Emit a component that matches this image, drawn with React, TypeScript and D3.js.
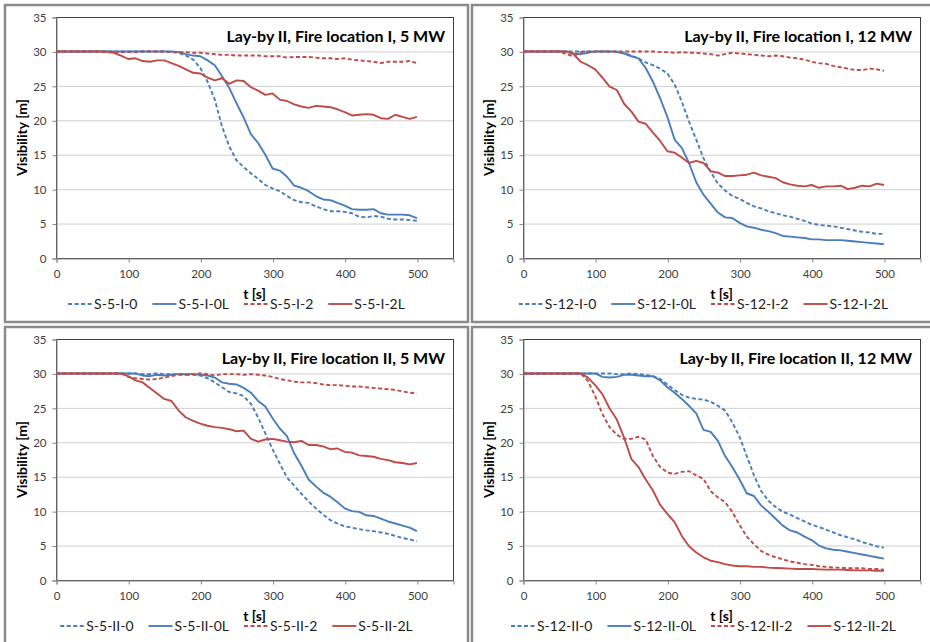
import React, { useRef, useEffect } from "react";
import * as d3 from "d3";

// Visibilidad frente a tiempo, 4 escenarios (lay-by II)
const T = [0, 10, 20, 30, 40, 50, 60, 70, 80, 90, 100, 110, 120, 130, 140, 150, 160, 170, 180, 190, 200,
  210, 220, 230, 240, 250, 260, 270, 280, 290, 300, 310, 320, 330, 340, 350, 360, 370, 380, 390, 400,
  410, 420, 430, 440, 450, 460, 470, 480, 490, 500];

const X_TICKS = [0, 100, 200, 300, 400, 500];
const Y_TICKS = [0, 5, 10, 15, 20, 25, 30, 35];

// Fire location I, 5 MW
const S5I0 = [30, 30, 30, 30, 30, 30, 30, 30, 30, 30, 30, 30, 30, 30, 30,
  30, 29.9, 29.8, 29.4, 28.8, 27.6, 25.6, 23.0, 19.1, 16.2, 14.2, 13.2, 12.3, 11.5, 10.6,
  10.1, 9.7, 9.0, 8.4, 8.1, 8.0, 7.5, 7.1, 6.8, 6.8, 6.7, 6.5, 6.0, 5.9, 6.1, 6.0, 5.7, 5.6, 5.6, 5.5, 5.4];
const S5I0L = [30, 30, 30, 30, 30, 30, 30, 30, 30, 30, 30, 30, 30, 30, 30, 30, 30,
  29.9, 29.6, 29.4, 29.3, 28.7, 28.0, 26.4, 24.7, 22.5, 20.4, 18.0, 16.7, 15.0,
  13.0, 12.7, 11.8, 10.5, 10.2, 9.7, 9.0, 8.5, 8.4, 8.0, 7.6, 7.1, 7.0, 7.0, 7.1, 6.5, 6.3, 6.3, 6.3, 6.2, 5.8];
const S5I2 = [30, 30, 30, 30, 30, 30, 30, 29.9, 29.8, 29.9,
  29.9, 29.9, 30, 30, 30, 30, 29.9, 29.9, 29.9, 29.8,
  29.8, 29.7, 29.6, 29.5, 29.5, 29.4, 29.4, 29.4, 29.4, 29.3,
  29.3, 29.3, 29.1, 29.2, 29.2, 29.2, 29.1, 29.0, 29.0, 28.9,
  29.0, 28.8, 28.7, 28.6, 28.5, 28.3, 28.5, 28.5, 28.5, 28.6, 28.3];
const S5I2L = [30, 30, 30, 30, 30, 30, 30, 30, 29.8, 29.4,
  28.9, 29.0, 28.6, 28.5, 28.7, 28.7, 28.3, 27.9, 27.4, 26.9,
  26.8, 26.2, 25.8, 26.1, 25.3, 25.8, 25.7, 24.8, 24.3, 23.7,
  23.9, 23.0, 22.8, 22.3, 22.0, 21.8, 22.1, 22.0, 21.9, 21.6,
  21.2, 20.7, 20.8, 20.9, 20.8, 20.3, 20.2, 20.8, 20.5, 20.2, 20.5];

// Fire location I, 12 MW
const S12I0 = [30, 30, 30, 30, 30, 30, 30, 30, 30, 30, 30, 30, 30, 30,
  29.8, 29.4, 29.0, 28.4, 28.0, 27.5,
  26.8, 25.2, 22.7, 19.8, 17.2, 14.5, 12.5, 10.8, 9.8, 9.0,
  8.6, 8.0, 7.5, 7.2, 6.8, 6.5, 6.2, 6.0, 5.7, 5.4,
  5.0, 4.8, 4.7, 4.6, 4.4, 4.2, 4.0, 3.8, 3.7, 3.5, 3.5];
const S12I0L = [30, 30, 30, 30, 30, 30, 30, 29.7, 29.6, 29.8,
  30, 30, 30, 29.9, 29.7, 29.3, 29.0, 27.6, 25.6, 23.2,
  20.5, 17.2, 16.0, 13.8, 11.0, 9.2, 7.9, 6.6, 5.9, 5.8,
  5.1, 4.6, 4.4, 4.1, 3.9, 3.6, 3.2, 3.1, 3.0, 2.9,
  2.7, 2.7, 2.6, 2.6, 2.6, 2.5, 2.4, 2.3, 2.2, 2.1, 2.0];
const S12I2 = [30, 30, 30, 30, 30, 30, 29.6, 29.3, 29.9, 30,
  30, 30, 30, 30, 30, 30, 30, 30, 30, 29.9,
  29.9, 29.8, 29.9, 29.8, 29.8, 29.7, 29.6, 29.4, 29.6, 29.8,
  29.7, 29.6, 29.5, 29.4, 29.3, 29.4, 29.3, 29.1, 29.0, 28.8,
  28.5, 28.3, 28.2, 27.9, 27.7, 27.5, 27.3, 27.3, 27.5, 27.4, 27.2];
const S12I2L = [30, 30, 30, 30, 30, 30, 30, 29.6, 28.5, 28.0,
  27.4, 26.2, 24.9, 24.4, 22.4, 21.3, 19.8, 19.5, 18.2, 17.0,
  15.5, 15.3, 14.6, 13.8, 14.1, 13.8, 12.6, 12.4, 11.9, 11.9,
  12.0, 12.1, 12.4, 12.0, 11.8, 11.6, 11.0, 10.7, 10.5, 10.4,
  10.6, 10.2, 10.4, 10.4, 10.5, 10.0, 10.2, 10.5, 10.4, 10.8, 10.6];

// Fire location II, 5 MW
const S5II0 = [30, 30, 30, 30, 30, 30, 30, 30, 30, 30, 30,
  30, 29.9, 29.9, 30, 29.9, 29.9, 29.9, 29.8, 29.8,
  29.7, 29.3, 28.7, 28.0, 27.3, 27.1, 26.7, 25.6, 23.6, 21.3,
  19.0, 16.9, 14.9, 13.7, 12.5, 11.4, 10.4, 9.5, 8.7, 8.2,
  7.8, 7.6, 7.4, 7.2, 7.1, 6.9, 6.7, 6.4, 6.1, 5.9, 5.6];
const S5II0L = [30, 30, 30, 30, 30, 30, 30, 30, 30, 30, 30, 30,
  29.7, 29.6, 29.8, 29.7, 29.8, 29.9, 29.9, 29.9,
  29.8, 29.7, 29.4, 28.7, 28.5, 28.4, 27.9, 27.2, 26.0, 25.2,
  23.5, 22.0, 20.9, 18.4, 16.6, 14.6, 13.6, 12.7, 12.1, 11.3,
  10.4, 10.0, 9.9, 9.4, 9.3, 8.9, 8.5, 8.2, 7.9, 7.6, 7.1];
const S5II2 = [30, 30, 30, 30, 30, 30, 30, 30, 30, 30,
  29.5, 29.3, 29.2, 29.1, 29.2, 29.4, 29.6, 29.8, 29.8, 29.9,
  30, 29.9, 29.7, 29.9, 29.9, 29.9, 29.8, 29.9, 29.8, 29.7,
  29.5, 29.2, 29.0, 28.8, 28.7, 28.7, 28.6, 28.4, 28.3, 28.3,
  28.2, 28.1, 28.1, 28.0, 27.9, 27.8, 27.7, 27.6, 27.4, 27.2, 27.1];
const S5II2L = [30, 30, 30, 30, 30, 30, 30, 30, 30, 30,
  29.6, 29.0, 28.7, 27.9, 27.1, 26.3, 26.0, 24.6, 23.6, 23.1,
  22.7, 22.4, 22.2, 22.1, 21.9, 21.6, 21.7, 20.5, 20.1, 20.4,
  20.5, 20.3, 20.1, 20.0, 20.2, 19.6, 19.6, 19.4, 19.0, 19.1,
  18.6, 18.5, 18.1, 18.0, 17.9, 17.6, 17.4, 17.1, 17.0, 16.8, 17.0];

// Fire location II, 12 MW
const S12II0 = [30, 30, 30, 30, 30, 30, 30, 30, 30, 30, 30,
  30, 30, 29.9, 29.9, 30, 29.9, 29.8, 29.6, 29.2,
  28.4, 27.6, 26.9, 26.5, 26.3, 26.2, 25.9, 25.3, 24.6, 22.9,
  20.8, 18.0, 15.2, 12.9, 11.5, 10.6, 9.9, 9.5, 9.0, 8.5,
  8.0, 7.7, 7.3, 6.9, 6.5, 6.2, 5.9, 5.5, 5.2, 4.9, 4.7];
const S12II0L = [30, 30, 30, 30, 30, 30, 30, 30, 30, 30, 30,
  29.5, 29.4, 29.5, 29.8, 29.8, 29.7, 29.6, 29.6, 29.0,
  28.0, 27.2, 26.3, 25.3, 24.2, 21.8, 21.5, 20.2, 18.0, 16.4,
  14.6, 12.6, 12.2, 10.8, 9.9, 8.9, 7.9, 7.2, 6.9, 6.3,
  5.8, 5.0, 4.6, 4.4, 4.3, 4.1, 3.9, 3.7, 3.5, 3.3, 3.1];
const S12II2 = [30, 30, 30, 30, 30, 30, 30, 30, 30, 28.9,
  26.7, 24.1, 22.2, 21.1, 20.5, 20.5, 20.8, 20.4, 18.0, 16.4,
  15.6, 15.4, 15.7, 15.8, 15.2, 14.7, 12.9, 12.0, 11.3, 9.9,
  8.0, 6.3, 5.2, 4.2, 3.7, 3.3, 3.0, 2.7, 2.5, 2.3,
  2.2, 2.0, 1.9, 1.8, 1.8, 1.7, 1.7, 1.7, 1.6, 1.6, 1.5];
const S12II2L = [30, 30, 30, 30, 30, 30, 30, 30, 30, 29.4,
  28.3, 27.0, 24.9, 23.3, 20.7, 17.6, 16.4, 14.6, 13.0, 10.9,
  9.6, 8.4, 6.4, 4.9, 4.0, 3.3, 2.8, 2.6, 2.3, 2.1,
  2.0, 2.0, 1.9, 1.9, 1.8, 1.75, 1.7, 1.65, 1.6, 1.6,
  1.6, 1.55, 1.5, 1.5, 1.5, 1.45, 1.4, 1.4, 1.4, 1.35, 1.35];

const TITLES = [
  "Lay-by II, Fire location I, 5 MW",
  "Lay-by II, Fire location I, 12 MW",
  "Lay-by II, Fire location II, 5 MW",
  "Lay-by II, Fire location II, 12 MW",
];
const NAMES = [
  ["S-5-I-0", "S-5-I-0L", "S-5-I-2", "S-5-I-2L"],
  ["S-12-I-0", "S-12-I-0L", "S-12-I-2", "S-12-I-2L"],
  ["S-5-II-0", "S-5-II-0L", "S-5-II-2", "S-5-II-2L"],
  ["S-12-II-0", "S-12-II-0L", "S-12-II-2", "S-12-II-2L"],
];
const SERIES = [
  [S5I0, S5I0L, S5I2, S5I2L],
  [S12I0, S12I0L, S12I2, S12I2L],
  [S5II0, S5II0L, S5II2, S5II2L],
  [S12II0, S12II0L, S12II2, S12II2L],
];

const BLUE = "#4a7ebb";
const RED = "#be4b48";
const STYLES = [
  { color: BLUE, dash: "4,2.5" },
  { color: BLUE, dash: null },
  { color: RED, dash: "4,2.5" },
  { color: RED, dash: null },
];

// Origen de cada marco (px)
const FRAMES = [
  { x: 5, y: 5 },
  { x: 472, y: 5 },
  { x: 5, y: 327 },
  { x: 472, y: 327 },
];

const WIDTH = 930;
const HEIGHT = 642;

const App = () => {
  const ref = useRef<SVGSVGElement>(null);

  useEffect(() => {
    const container = ref.current;
    if (!container) return;
    d3.select(container).selectChildren().remove();
    const root = d3.select(container);

    const frameW = 463, frameH = 317;
    const pw = 397, ph = 241;

    FRAMES.forEach((f, k) => {
      const g = root.append("g").attr("transform", `translate(${f.x}, ${f.y})`);

      // Marco
      g.append("rect")
        .attr("x", 0).attr("y", 0)
        .attr("width", frameW).attr("height", frameH)
        .attr("fill", "white")
        .attr("stroke", "#8a8a8a")
        .attr("stroke-width", 2.5);

      const plot = g.append("g").attr("transform", "translate(51, 12)");

      const x = d3.scaleLinear().domain([0, 550]).range([0, pw]);
      const y = d3.scaleLinear().domain([0, 35]).range([ph, 0]);

      // Rejilla
      plot.append("g")
        .selectAll("line")
        .data(Y_TICKS.filter((v) => v > 0 && v < 35))
        .enter()
        .append("line")
        .attr("x1", 0).attr("x2", pw)
        .attr("y1", (d) => y(d) + 0.5).attr("y2", (d) => y(d) + 0.5)
        .attr("stroke", "#cfcfcf")
        .attr("stroke-width", 1);

      // Borde del área de trazado
      plot.append("rect")
        .attr("x", 0.5).attr("y", 0.5)
        .attr("width", pw).attr("height", ph)
        .attr("fill", "none")
        .attr("stroke", "#3f3f3f")
        .attr("stroke-width", 1);

      // Ejes
      const yAxis = plot.append("g")
        .attr("transform", "translate(0.5, 0.5)")
        .call(d3.axisLeft(y).tickValues(Y_TICKS).tickSize(4).tickPadding(6));
      const xAxis = plot.append("g")
        .attr("transform", `translate(0.5, ${ph + 0.5})`)
        .call(d3.axisBottom(x).tickValues(X_TICKS).tickSize(4).tickPadding(7));
      [yAxis, xAxis].forEach((a) => {
        a.select(".domain").attr("stroke", "#868686");
        a.selectAll(".tick line").attr("stroke", "#868686");
        a.selectAll("text")
          .attr("fill", "#404040")
          .style("font-family", "Lato, 'Open Sans', sans-serif")
          .style("font-size", "11.5px");
      });

      // Series
      const line = d3.line<number>()
        .x((_, i) => x(T[i]))
        .y((d) => y(d));
      SERIES[k].forEach((s, j) => {
        plot.append("path")
          .datum(s)
          .attr("d", line)
          .attr("fill", "none")
          .attr("stroke", STYLES[j].color)
          .attr("stroke-width", 1.9)
          .attr("stroke-dasharray", STYLES[j].dash)
          .attr("stroke-linejoin", "round");
      });

      // Título
      plot.append("text")
        .attr("x", pw - 8)
        .attr("y", 25)
        .attr("text-anchor", "end")
        .style("font-family", "Lato, sans-serif")
        .style("font-weight", "bold")
        .style("font-size", "16px")
        .text(TITLES[k]);

      // Rótulo eje Y
      g.append("text")
        .attr("transform", `translate(17, ${12 + ph / 2}) rotate(-90)`)
        .attr("text-anchor", "middle")
        .attr("dy", "0.35em")
        .style("font-family", "Lato, sans-serif")
        .style("font-weight", "bold")
        .style("font-size", "14px")
        .text("Visibility [m]");

      // Rótulo eje X
      g.append("text")
        .attr("x", 51 + pw / 2)
        .attr("y", 12 + ph + 41)
        .attr("text-anchor", "middle")
        .style("font-family", "Lato, sans-serif")
        .style("font-weight", "bold")
        .style("font-size", "14px")
        .text("t [s]");

      // Leyenda
      const legend = g.append("g");
      const items = NAMES[k].map((name, j) => {
        const item = legend.append("g");
        item.append("line")
          .attr("x1", 0).attr("x2", 24)
          .attr("y1", 0).attr("y2", 0)
          .attr("stroke", STYLES[j].color)
          .attr("stroke-width", 1.9)
          .attr("stroke-dasharray", STYLES[j].dash);
        const t = item.append("text")
          .attr("x", 26)
          .attr("dy", "0.35em")
          .style("font-family", "Lato, sans-serif")
          .style("font-size", "14px")
          .attr("fill", "#222")
          .text(name);
        const w = 26 + (t.node() as SVGTextElement).getComputedTextLength();
        return { item, w };
      });
      const gap = 15;
      const total = d3.sum(items, (d) => d.w) + gap * (items.length - 1);
      let cx = frameW / 2 - total / 2;
      items.forEach(({ item, w }) => {
        item.attr("transform", `translate(${cx}, 299)`);
        cx += w + gap;
      });
    });
  }, []);

  return (
    <svg
      ref={ref}
      width={WIDTH}
      height={HEIGHT}
      style={{ position: "absolute", left: 0, top: 0, background: "white" }}
    />
  );
};

export default App;
